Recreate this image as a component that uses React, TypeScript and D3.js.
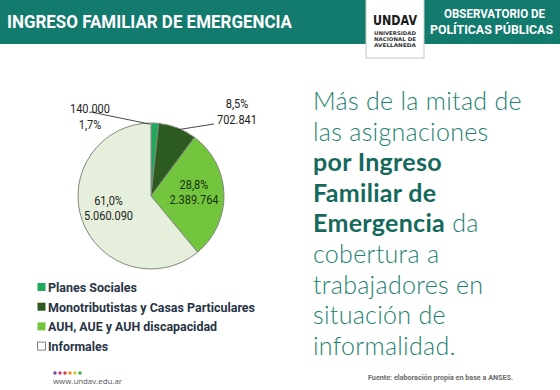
import * as d3 from "d3";
import { useEffect, useRef } from "react";

// data
const categories = [
  "Planes Sociales",
  "Monotributistas y Casas Particulares",
  "AUH, AUE y AUH discapacidad",
  "Informales",
];
const values = [140000, 702841, 2389764, 5060090];
const colors = ["#20a85c", "#2d5a1f", "#72c53d", "#e5efdc"];
const legendColors = ["#20a85c", "#2d5a1f", "#72c53d", "#ffffff"];
const legendWidths = [89, 207, 169, 60];

const headline = [
  [{ t: "Más de la mitad de", b: false }],
  [{ t: "las asignaciones", b: false }],
  [{ t: "por Ingreso", b: true }],
  [{ t: "Familiar de", b: true }],
  [{ t: "Emergencia", b: true }, { t: " da", b: false }],
  [{ t: "cobertura a", b: false }],
  [{ t: "trabajadores en", b: false }],
  [{ t: "situación de", b: false }],
  [{ t: "informalidad.", b: false }],
];
const dotColors = ["#7b3f98", "#d63384", "#e53935", "#f28c28", "#c6cf2e", "#3fae49"];

const esAR = d3.formatLocale({
  decimal: ",",
  thousands: ".",
  grouping: [3],
  currency: ["$", ""],
});
const fmtNum = esAR.format(",d");
const fmtPct = esAR.format(".1%");

export default function App() {
  const ref = useRef<SVGSVGElement | null>(null);

  useEffect(() => {
    const svg = d3.select(ref.current);
    svg.selectAll("*").remove();
    const cond = "Roboto, 'Liberation Sans', sans-serif";

    // background
    svg.append("rect").attr("width", 560).attr("height", 390).attr("fill", "#ffffff");

    // header band
    svg.append("rect").attr("x", 0).attr("y", 0).attr("width", 560).attr("height", 44).attr("fill", "#137a6e");
    svg
      .append("text")
      .attr("x", 7)
      .attr("y", 28)
      .attr("fill", "#fff")
      .attr("font-family", cond)
      .attr("font-weight", 700)
      .attr("font-size", 19)
      .attr("textLength", 285)
      .attr("lengthAdjust", "spacingAndGlyphs")
      .text("INGRESO FAMILIAR DE EMERGENCIA");

    // logo box
    const logo = svg.append("g");
    logo
      .append("rect")
      .attr("x", 366)
      .attr("y", -2)
      .attr("width", 58)
      .attr("height", 60)
      .attr("fill", "#fff")
      .attr("stroke", "#c8c8c8")
      .attr("stroke-width", 1);
    logo
      .append("text")
      .attr("x", 373)
      .attr("y", 25)
      .attr("fill", "#1a1a1a")
      .attr("font-family", "'DejaVu Sans', sans-serif")
      .attr("font-weight", 700)
      .attr("font-size", 14)
      .attr("textLength", 44)
      .attr("lengthAdjust", "spacingAndGlyphs")
      .text("UNDAV");
    ["UNIVERSIDAD", "NACIONAL DE", "AVELLANEDA"].forEach((t, i) => {
      logo
        .append("text")
        .attr("x", 374)
        .attr("y", 35 + i * 6)
        .attr("fill", "#333")
        .attr("font-family", "'DejaVu Sans', sans-serif")
        .attr("font-weight", 700)
        .attr("font-size", 5)
        .attr("textLength", 42)
        .attr("lengthAdjust", "spacingAndGlyphs")
        .text(t);
    });

    svg
      .append("text")
      .attr("x", 545)
      .attr("y", 18)
      .attr("text-anchor", "end")
      .attr("fill", "#fff")
      .attr("font-family", cond)
      .attr("font-weight", 700)
      .attr("font-size", 12.5)
      .attr("textLength", 101)
      .attr("lengthAdjust", "spacingAndGlyphs")
      .text("OBSERVATORIO DE");
    svg
      .append("text")
      .attr("x", 553)
      .attr("y", 34)
      .attr("text-anchor", "end")
      .attr("fill", "#fff")
      .attr("font-family", cond)
      .attr("font-weight", 700)
      .attr("font-size", 12.5)
      .attr("textLength", 123)
      .attr("lengthAdjust", "spacingAndGlyphs")
      .text("POLÍTICAS PÚBLICAS");

    // pie
    const cx = 151;
    const cy = 196;
    const r = 73;
    const total = d3.sum(values);
    const pie = d3
      .pie<number>()
      .sort(null)
      .value((d) => d);
    const arcs = pie(values);
    const arc = d3.arc<d3.PieArcDatum<number>>().innerRadius(0).outerRadius(r);
    const innerLabelArc = d3.arc<d3.PieArcDatum<number>>().innerRadius(0).outerRadius(86);
    const edgeArc = d3.arc<d3.PieArcDatum<number>>().innerRadius(r - 2).outerRadius(r - 2);

    const g = svg.append("g").attr("transform", `translate(${cx},${cy})`);
    g.selectAll("path")
      .data(arcs)
      .join("path")
      .attr("d", arc)
      .attr("fill", (_, i) => colors[i])
      .attr("stroke", "#7f8a7c")
      .attr("stroke-width", 1);

    // inner labels for the two big slices
    const textColors = ["#222", "#222", "#16330c", "#222"];
    arcs.forEach((a, i) => {
      if (i < 2) return;
      const pct = fmtPct(values[i] / total);
      const num = fmtNum(values[i]);
      const [x, y] = innerLabelArc.centroid(a);
      const lx = i === 3 ? x * 1.05 : x;
      const t = g
        .append("text")
        .attr("text-anchor", "middle")
        .attr("fill", textColors[i])
        .attr("font-family", cond)
        .attr("font-size", 12.5)
        .attr("transform", `translate(${lx},${y - 6}) scale(0.88,1)`);
      t.append("tspan").attr("x", 0).attr("y", 0).text(pct);
      t.append("tspan").attr("x", 0).attr("dy", 15).text(num);
    });

    // outer labels with leader lines
    const outer = [
      { i: 0, tx: -61, ty: -83, lines: [fmtNum(values[0]), fmtPct(values[0] / total)], end: [-60, -84] },
      { i: 1, tx: 86, ty: -88, lines: [fmtPct(values[1] / total), fmtNum(values[1])], end: [63, -72] },
    ];
    outer.forEach((o) => {
      const a = arcs[o.i];
      const [ex, ey] = edgeArc.centroid(a);
      const p0 = o.i === 0 ? [ex - 5, ey - 1] : [ex, ey];
      g.append("path")
        .attr("d", d3.line()([p0 as [number, number], o.end as [number, number]]))
        .attr("stroke", "#333")
        .attr("stroke-width", 0.9)
        .attr("fill", "none");
      const t = g
        .append("text")
        .attr("text-anchor", "middle")
        .attr("fill", "#222")
        .attr("font-family", cond)
        .attr("font-size", 12.5)
        .attr("transform", `translate(${o.tx},${o.ty}) scale(0.88,1)`);
      t.append("tspan").attr("x", 0).attr("y", 0).text(o.lines[0]);
      t.append("tspan").attr("x", 0).attr("dy", 16).text(o.lines[1]);
    });

    // legend
    const leg = svg.append("g").attr("transform", "translate(37,283)");
    categories.forEach((c, i) => {
      const row = leg.append("g").attr("transform", `translate(0,${i * 19.7})`);
      row
        .append("rect")
        .attr("x", 0.5)
        .attr("y", 0)
        .attr("width", 8)
        .attr("height", 8)
        .attr("fill", legendColors[i])
        .attr("stroke", i === 3 ? "#777" : "none")
        .attr("stroke-width", 0.9);
      row
        .append("text")
        .attr("x", 11)
        .attr("y", 9)
        .attr("fill", "#283446")
        .attr("font-family", cond)
        .attr("font-weight", 700)
        .attr("font-size", 13)
        .attr("textLength", legendWidths[i])
        .attr("lengthAdjust", "spacingAndGlyphs")
        .text(c);
    });

    // headline text on the right
    const hl = svg
      .append("text")
      .attr("font-family", "Lato, 'Open Sans', sans-serif")
      .attr("font-size", 25)
      .attr("letter-spacing", 0.3);
    headline.forEach((line, li) => {
      line.forEach((seg, si) => {
        const ts = hl
          .append("tspan")
          .attr("fill", seg.b ? "#14695c" : "#1e8172")
          .attr("font-weight", seg.b ? 700 : 300)
          .text(seg.t);
        if (si === 0) ts.attr("x", 313).attr("y", 110 + li * 30.6);
      });
    });

    // footer
    dotColors.forEach((c, i) => {
      svg.append("circle").attr("cx", 55 + i * 5).attr("cy", 373).attr("r", 1.7).attr("fill", c);
    });
    svg
      .append("text")
      .attr("x", 53)
      .attr("y", 384)
      .attr("fill", "#555")
      .attr("font-family", "'Open Sans', sans-serif")
      .attr("font-size", 8)
      .attr("textLength", 69)
      .attr("lengthAdjust", "spacingAndGlyphs")
      .text("www.undav.edu.ar");
    svg
      .append("text")
      .attr("x", 368)
      .attr("y", 380)
      .attr("fill", "#6b6b6b")
      .attr("font-family", cond)
      .attr("font-weight", 700)
      .attr("font-size", 7)
      .attr("textLength", 145)
      .attr("lengthAdjust", "spacingAndGlyphs")
      .text("Fuente: elaboración propia en base a ANSES.");
  }, []);

  return (
    <svg
      ref={ref}
      width={560}
      height={390}
      style={{ position: "fixed", left: 0, top: 0, display: "block" }}
    />
  );
}
